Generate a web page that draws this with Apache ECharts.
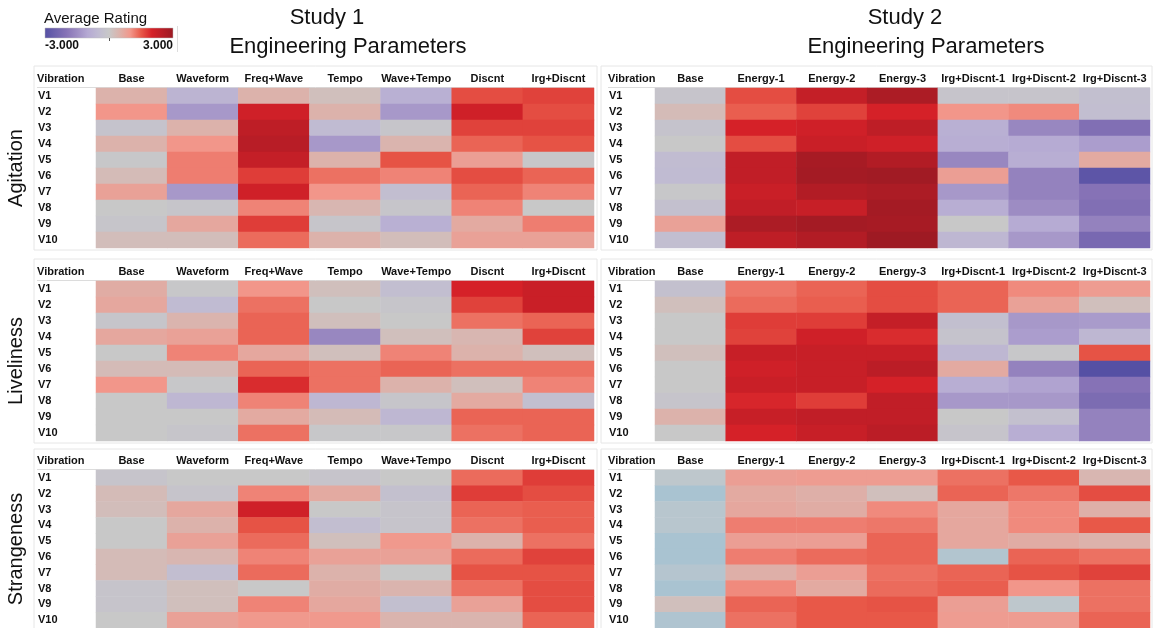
<!DOCTYPE html>
<html>
<head>
<meta charset="utf-8">
<script src="https://cdn.jsdelivr.net/npm/echarts@6/dist/echarts.min.js"></script>
<style>
html, body { margin: 0; padding: 0; background: #fff; }
#chart { width: 1154px; height: 628px; }
</style>
</head>
<body>
<div id="chart"></div>
<script>
// categories
const vibrations = ['V1', 'V2', 'V3', 'V4', 'V5', 'V6', 'V7', 'V8', 'V9', 'V10'];
const study1Params = ['Base', 'Waveform', 'Freq+Wave', 'Tempo', 'Wave+Tempo', 'Discnt', 'Irg+Discnt'];
const study2Params = ['Base', 'Energy-1', 'Energy-2', 'Energy-3', 'Irg+Discnt-1', 'Irg+Discnt-2', 'Irg+Discnt-3'];
const attributes = ['Agitation', 'Liveliness', 'Strangeness'];
const studyTitles = ['Study 1', 'Study 2'];
const ratingRange = [-3, 3];
const legendLabels = ['-3.000', '3.000'];

// average ratings, one row per vibration (V1..V10), one column per parameter
const study1Agitation = [
    [0.5, -0.7, 0.5, 0.2, -0.8, 1.6, 1.7],
    [1.0, -1.3, 2.1, 0.5, -1.3, 2.1, 1.6],
    [-0.2, 0.5, 2.4, -0.5, -0.1, 1.7, 1.7],
    [0.5, 1.0, 2.5, -1.3, 0.45, 1.4, 1.55],
    [-0.05, 1.2, 2.3, 0.5, 1.55, 0.85, -0.05],
    [0.3, 1.2, 1.75, 1.3, 1.15, 1.6, 1.4],
    [0.8, -1.3, 2.1, 1.0, -0.4, 1.4, 1.15],
    [0, -0.1, 1.15, 0.4, -0.1, 1.15, 0],
    [-0.1, 0.7, 1.75, -0.1, -0.8, 0.65, 1.2],
    [0.25, 0.25, 1.35, 0.5, 0.25, 0.8, 0.8]
];
const study2Agitation = [
    [-0.15, 1.6, 2.3, 2.7, -0.15, -0.15, -0.35],
    [0.3, 1.45, 1.7, 2.0, 1.0, 1.1, -0.4],
    [-0.2, 2.0, 2.1, 2.4, -0.8, -1.6, -2.1],
    [0, 1.6, 2.2, 2.1, -0.85, -0.95, -1.2],
    [-0.45, 2.35, 2.8, 2.6, -1.6, -0.85, 0.65],
    [-0.5, 2.35, 2.85, 2.9, 0.85, -1.7, -2.85],
    [-0.05, 2.2, 2.6, 2.7, -1.3, -1.7, -2.0],
    [-0.3, 2.35, 2.25, 2.85, -0.85, -1.5, -2.1],
    [0.8, 2.7, 2.85, 2.8, 0, -0.95, -1.7],
    [-0.4, 2.4, 2.6, 2.95, -0.6, -1.3, -2.3]
];
const study1Liveliness = [
    [0.6, -0.05, 1.0, 0.2, -0.4, 2.0, 2.2],
    [0.7, -0.5, 1.3, 0, -0.1, 1.7, 2.2],
    [-0.1, 0.45, 1.4, 0.2, 0, 1.3, 1.4],
    [0.7, 0.8, 1.4, -1.6, 0.2, 0.4, 1.7],
    [0, 1.15, 0.7, 0.2, 1.15, 0.5, 0.2],
    [0.3, 0.3, 1.4, 1.3, 1.4, 1.3, 1.3],
    [1.0, -0.05, 1.9, 1.3, 0.5, 0.2, 1.15],
    [0, -0.6, 1.15, -0.6, -0.1, 0.65, -0.35],
    [0, 0, 0.65, 0.3, -0.6, 1.4, 1.4],
    [0, -0.1, 1.3, -0.05, -0.05, 1.3, 1.4]
];
const study2Liveliness = [
    [-0.3, 1.25, 1.4, 1.6, 1.4, 1.1, 0.9],
    [0.2, 1.35, 1.45, 1.6, 1.4, 0.8, 0.2],
    [0, 1.75, 1.75, 2.3, -0.35, -1.3, -1.25],
    [0, 1.7, 2.1, 1.9, -0.2, -1.2, -0.6],
    [0.2, 2.25, 2.25, 2.25, -0.6, -0.05, 1.55],
    [0, 2.1, 2.25, 2.45, 0.65, -1.7, -3.0],
    [0, 2.2, 2.25, 2.0, -0.85, -1.1, -2.0],
    [-0.15, 1.95, 1.75, 2.35, -1.3, -1.3, -2.2],
    [0.5, 2.25, 2.35, 2.35, 0, -0.3, -1.7],
    [0, 2.0, 2.25, 2.45, -0.15, -0.85, -1.7]
];
const study1Strangeness = [
    [-0.15, 0, 0, -0.15, 0, 1.35, 1.75],
    [0.3, -0.15, 1.15, 0.65, -0.3, 1.75, 1.6],
    [0.25, 0.7, 2.1, 0, -0.15, 1.4, 1.45],
    [0, 0.5, 1.55, -0.4, -0.15, 1.3, 1.45],
    [0, 0.8, 1.35, 0.2, 0.95, 0.5, 1.3],
    [0.3, 0.4, 1.15, 0.8, 0.8, 1.35, 1.7],
    [0.3, -0.4, 1.35, 0.5, 0, 1.55, 1.55],
    [-0.15, 0.2, 0, 0.6, 0.45, 1.3, 1.6],
    [-0.15, 0.2, 1.15, 0.7, -0.35, 0.8, 1.6],
    [0, 0.8, 0.95, 0.95, 0.45, 0.45, 1.4]
];
const study2Strangeness = [
    [-0.3, 0.85, 0.9, 0.9, 1.3, 1.5, 0.4],
    [-1.0, 0.65, 0.55, 0.2, 1.4, 1.25, 1.6],
    [-0.5, 0.7, 0.6, 1.1, 0.7, 1.1, 0.55],
    [-0.5, 1.2, 1.2, 1.25, 0.7, 1.1, 1.5],
    [-1.0, 0.85, 0.85, 1.4, 0.7, 0.6, 0.5],
    [-1.0, 1.2, 1.35, 1.4, -0.7, 1.4, 1.3],
    [-0.6, 0.55, 0.85, 1.3, 1.4, 1.55, 1.7],
    [-1.0, 1.1, 0.65, 1.35, 1.45, 1.0, 1.3],
    [0.2, 1.4, 1.5, 1.55, 0.85, -0.3, 1.3],
    [-0.8, 1.3, 1.5, 1.5, 0.9, 0.9, 1.4]
];

// colour scales, one stop every 0.5 from -3 to 3
const ratingColors = ['#5550a4', '#6e62ad', '#8672b6', '#9d8cc3', '#b5a9d3', '#c0bbd2', '#c8c8c8',
    '#dcb2ab', '#f2968a', '#e85848', '#d52128', '#b81d26', '#9b1a23'];
const blueNegColors = ['#5d8cae', '#7299b6', '#87a9c0', '#98b6c8', '#a9c3d1', '#b8c6ce', '#c8c8c8',
    '#dcb2ab', '#f2968a', '#e85848', '#d52128', '#b81d26', '#9b1a23'];

let fontFamily = '"Liberation Sans", Arial, sans-serif';

// turn a rows x cols table into [col, row, value] triples
function to_cells(rows) {
    let cells = [];
    rows.forEach(function (row, r) {
        row.forEach(function (v, c) {
            cells.push([c, r, v]);
        });
    });
    return cells;
}

function draw_chart() {
    let chart = echarts.init(document.getElementById('chart'));

    let panels = [
        {study: 0, attr: 0, params: study1Params, rows: study1Agitation},
        {study: 1, attr: 0, params: study2Params, rows: study2Agitation},
        {study: 0, attr: 1, params: study1Params, rows: study1Liveliness},
        {study: 1, attr: 1, params: study2Params, rows: study2Liveliness},
        {study: 0, attr: 2, params: study1Params, rows: study1Strangeness},
        {study: 1, attr: 2, params: study2Params, rows: study2Strangeness}
    ];

    // layout
    let colLeft = [96, 655];
    let colWidth = [498, 495];
    let labelX = [37, 608];
    let rowTop = [88, 281, 470];
    let rowHeight = [160, 160, 158];
    let frameX = [34, 601];
    let frameW = [563, 551];
    let frameY = [66, 259, 449];
    let frameH = [184, 184, 182];

    let grids = [], xAxes = [], yAxes = [], series = [];
    let graphics = [];

    panels.forEach(function (p, i) {
        grids.push({
            left: colLeft[p.study], top: rowTop[p.attr],
            width: colWidth[p.study], height: rowHeight[p.attr]
        });
        xAxes.push({
            type: 'category', gridIndex: i, data: p.params, position: 'top',
            axisLine: {show: false}, axisTick: {show: false}, splitLine: {show: false},
            axisLabel: {interval: 0, margin: 4, fontSize: 11, fontWeight: 'bold', color: '#111', fontFamily: fontFamily}
        });
        yAxes.push({
            type: 'category', gridIndex: i, data: vibrations, inverse: true,
            axisLine: {show: false}, axisTick: {show: false}, splitLine: {show: false},
            axisLabel: {
                interval: 0, align: 'left', margin: colLeft[p.study] - labelX[p.study] - 1,
                fontSize: 11, fontWeight: 'bold', color: '#111', fontFamily: fontFamily
            }
        });
        series.push({
            type: 'heatmap', xAxisIndex: i, yAxisIndex: i,
            data: to_cells(p.rows),
            itemStyle: {borderWidth: 0},
            emphasis: {disabled: true},
            silent: true
        });

        // panel frame and header line
        graphics.push({
            type: 'rect', silent: true, z: -1,
            shape: {x: frameX[p.study], y: frameY[p.attr], width: frameW[p.study], height: frameH[p.attr]},
            style: {fill: null, stroke: '#e6e6e6', lineWidth: 1}
        });
        graphics.push({
            type: 'line', silent: true,
            shape: {x1: labelX[p.study], y1: rowTop[p.attr] - 0.5, x2: colLeft[p.study] + colWidth[p.study], y2: rowTop[p.attr] - 0.5},
            style: {stroke: '#dcdcdc', lineWidth: 1}
        });
        graphics.push({
            type: 'text', silent: true,
            x: labelX[p.study], y: rowTop[p.attr] - 9,
            style: {text: 'Vibration', font: 'bold 11px ' + fontFamily, fill: '#111', textVerticalAlign: 'middle'}
        });
    });

    // row titles on the left
    let attrY = [168, 361, 549];
    attributes.forEach(function (a, k) {
        graphics.push({
            type: 'text', silent: true, x: 16, y: attrY[k], rotation: Math.PI / 2,
            style: {text: a, font: '20px ' + fontFamily, fill: '#111', textAlign: 'center', textVerticalAlign: 'middle'}
        });
    });

    // study titles
    let titleX = [327, 905];
    let subX = [348, 926];
    studyTitles.forEach(function (t, k) {
        graphics.push({
            type: 'text', silent: true, x: titleX[k], y: 18,
            style: {text: t, font: '22px ' + fontFamily, fill: '#111', textAlign: 'center', textVerticalAlign: 'middle'}
        });
        graphics.push({
            type: 'text', silent: true, x: subX[k], y: 47,
            style: {text: 'Engineering Parameters', font: '22px ' + fontFamily, fill: '#111', textAlign: 'center', textVerticalAlign: 'middle'}
        });
    });

    // colour legend
    let stops = ratingColors.map(function (c, k) {
        return {offset: k / (ratingColors.length - 1), color: c};
    });
    graphics.push({
        type: 'text', silent: true, x: 44, y: 19,
        style: {text: 'Average Rating', font: '15px ' + fontFamily, fill: '#111', textVerticalAlign: 'middle'}
    });
    graphics.push({
        type: 'rect', silent: true,
        shape: {x: 45, y: 28, width: 128, height: 10},
        style: {fill: new echarts.graphic.LinearGradient(0, 0, 1, 0, stops), stroke: '#bdbdbd', lineWidth: 0.5}
    });
    graphics.push({
        type: 'line', silent: true,
        shape: {x1: 109.5, y1: 38, x2: 109.5, y2: 41},
        style: {stroke: '#555', lineWidth: 1}
    });
    graphics.push({
        type: 'line', silent: true,
        shape: {x1: 177.5, y1: 26, x2: 177.5, y2: 52},
        style: {stroke: '#dddddd', lineWidth: 1}
    });
    graphics.push({
        type: 'text', silent: true, x: 45, y: 46,
        style: {text: legendLabels[0], font: 'bold 12px ' + fontFamily, fill: '#111', textVerticalAlign: 'middle'}
    });
    graphics.push({
        type: 'text', silent: true, x: 173, y: 46,
        style: {text: legendLabels[1], font: 'bold 12px ' + fontFamily, fill: '#111', textAlign: 'right', textVerticalAlign: 'middle'}
    });

    let option = {
        animation: false,
        backgroundColor: '#ffffff',
        grid: grids,
        xAxis: xAxes,
        yAxis: yAxes,
        visualMap: [
            {
                show: false, type: 'continuous', min: ratingRange[0], max: ratingRange[1],
                seriesIndex: [0, 1, 2, 3, 4], inRange: {color: ratingColors}
            },
            {
                show: false, type: 'continuous', min: ratingRange[0], max: ratingRange[1],
                seriesIndex: [5], inRange: {color: blueNegColors}
            }
        ],
        series: series,
        graphic: graphics
    };
    chart.setOption(option);
}

draw_chart();
</script>
</body>
</html>
